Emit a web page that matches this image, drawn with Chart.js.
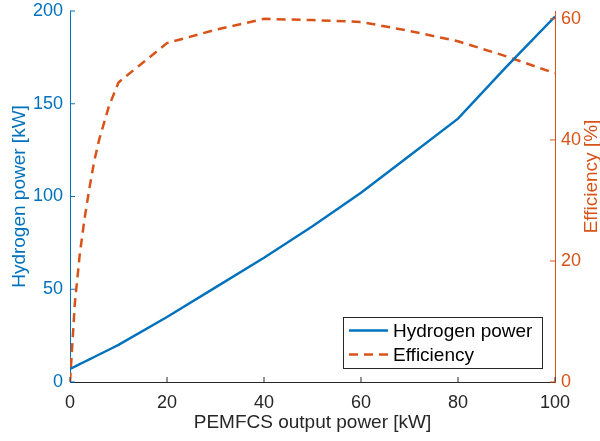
<!DOCTYPE html>
<html>
<head>
<meta charset="utf-8">
<script src="https://cdn.jsdelivr.net/npm/chart.js@4"></script>
<style>
    html, body { margin: 0; padding: 0; background: #fff; }
    #chart { display: block; }
</style>
</head>
<body>
<canvas id="chart" width="600" height="441"></canvas>
<script>
// datos
const outputPower = [0, 1, 2, 3, 4, 5, 6, 8, 10, 20, 30, 40, 50, 60, 70, 80, 90, 100];
const hydrogenPower = [7, 8.3, 9.6, 10.9, 12.2, 13.5, 14.8, 17.4, 20, 35, 51, 67, 84, 102, 122, 142, 170, 197];
const efficiency = [0, 13, 21, 27, 32, 36.5, 40, 45.5, 49.5, 56, 58.2, 60, 59.8, 59.5, 58, 56.3, 53.8, 51];

const xTicks = [0, 20, 40, 60, 80, 100];
const leftTicks = [0, 50, 100, 150, 200];
const rightTicks = [0, 20, 40, 60];

const BLUE = "#0072BD";
const ORANGE = "#D95319";
const DARK = "#262626";
const FONT = "'Liberation Sans', Arial, Helvetica, sans-serif";

function toPoints(xs, ys) {
    return xs.map((x, i) => ({ x: x, y: ys[i] }));
}

function keepTicks(list) {
    return scale => {
        scale.ticks = list.map(v => ({ value: v }));
    };
}

// anchos fijos para que el area quede como en MATLAB
function fixVertical(width) {
    return s => {
        s.width = width;
        s.paddingTop = 0;
        s.paddingBottom = 0;
    };
}

/* ===========================
   TICKS HACIA DENTRO
=========================== */
const inwardTicks = {
    id: "inwardTicks",
    afterDraw(chart) {
        const ctx = chart.ctx;
        const len = 5;
        ctx.save();
        ctx.lineWidth = 1;
        ["x", "y", "y1"].forEach(id => {
            const s = chart.scales[id];
            ctx.strokeStyle = s.options.border.color;
            s.ticks.forEach(t => {
                const p = s.getPixelForValue(t.value);
                ctx.beginPath();
                if (id === "x") {
                    ctx.moveTo(p, s.top);
                    ctx.lineTo(p, s.top - len);
                } else if (id === "y") {
                    ctx.moveTo(s.right, p);
                    ctx.lineTo(s.right + len, p);
                } else {
                    ctx.moveTo(s.left, p);
                    ctx.lineTo(s.left - len, p);
                }
                ctx.stroke();
            });
        });
        ctx.restore();
    }
};

/* ===========================
   TITULO EJE DERECHO (abajo -> arriba)
=========================== */
const rightTitle = {
    id: "rightTitle",
    afterDraw(chart) {
        const ctx = chart.ctx;
        const area = chart.chartArea;
        ctx.save();
        ctx.translate(592, (area.top + area.bottom) / 2 - 20);
        ctx.rotate(-Math.PI / 2);
        ctx.font = "19px " + FONT;
        ctx.fillStyle = ORANGE;
        ctx.textAlign = "center";
        ctx.textBaseline = "middle";
        ctx.fillText("Efficiency [%]", 0, 0);
        ctx.restore();
    }
};

/* ===========================
   LEYENDA (estilo MATLAB)
=========================== */
const boxLegend = {
    id: "boxLegend",
    afterDraw(chart) {
        const ctx = chart.ctx;
        const area = chart.chartArea;
        const w = 199, h = 51;
        const x0 = area.right - 13 - w;
        const y0 = area.bottom - 14 - h;
        ctx.save();
        ctx.fillStyle = "#fff";
        ctx.fillRect(x0, y0, w, h);
        ctx.strokeStyle = DARK;
        ctx.lineWidth = 1;
        ctx.strokeRect(x0 + 0.5, y0 + 0.5, w, h);
        ctx.font = "19px " + FONT;
        ctx.textBaseline = "middle";
        chart.data.datasets.forEach((ds, i) => {
            const y = y0 + 13.5 + i * 24;
            ctx.strokeStyle = ds.borderColor;
            ctx.lineWidth = ds.borderWidth;
            ctx.setLineDash(ds.borderDash || []);
            ctx.beginPath();
            ctx.moveTo(x0 + 6, y);
            ctx.lineTo(x0 + 45, y);
            ctx.stroke();
            ctx.setLineDash([]);
            ctx.fillStyle = "#000";
            ctx.fillText(ds.label, x0 + 50, y + 1);
        });
        ctx.restore();
    }
};

const ctx = document.getElementById("chart").getContext("2d");

new Chart(ctx, {
    type: "line",
    data: {
        datasets: [
            {
                label: "Hydrogen power",
                data: toPoints(outputPower, hydrogenPower),
                yAxisID: "y",
                borderColor: BLUE,
                borderWidth: 2.4,
                pointRadius: 0,
                tension: 0,
                fill: false
            },
            {
                label: "Efficiency",
                data: toPoints(outputPower, efficiency),
                yAxisID: "y1",
                borderColor: ORANGE,
                borderWidth: 2.5,
                borderDash: [9, 6],
                pointRadius: 0,
                tension: 0,
                fill: false
            }
        ]
    },
    options: {
        responsive: false,
        animation: false,
        layout: { padding: { top: 11, left: 0, right: 0, bottom: 0 } },
        plugins: {
            legend: { display: false },
            tooltip: { enabled: false }
        },
        scales: {
            x: {
                type: "linear",
                min: 0,
                max: 100,
                afterBuildTicks: keepTicks(xTicks),
                afterFit: s => {
                    s.height = 59;
                    s.paddingLeft = 0;
                    s.paddingRight = 0;
                },
                grid: { display: false, drawTicks: false },
                border: { display: true, color: DARK, width: 1 },
                ticks: {
                    color: DARK,
                    padding: 10,
                    maxRotation: 0,
                    font: { size: 18, family: FONT }
                },
                title: {
                    display: true,
                    text: "PEMFCS output power [kW]",
                    color: DARK,
                    padding: { top: 0, bottom: 9 },
                    font: { size: 19, family: FONT, lineHeight: 1 }
                }
            },
            y: {
                type: "linear",
                position: "left",
                min: 0,
                max: 200,
                afterBuildTicks: keepTicks(leftTicks),
                afterFit: fixVertical(70),
                grid: { display: false, drawTicks: false },
                border: { display: true, color: BLUE, width: 1 },
                ticks: {
                    color: BLUE,
                    padding: 7,
                    font: { size: 18, family: FONT }
                },
                title: {
                    display: true,
                    text: "Hydrogen power [kW]",
                    color: BLUE,
                    padding: { top: 10, bottom: 0 },
                    font: { size: 19, family: FONT, lineHeight: 1 }
                }
            },
            y1: {
                type: "linear",
                position: "right",
                min: 0,
                max: 61.3,
                afterBuildTicks: keepTicks(rightTicks),
                afterFit: fixVertical(45),
                grid: { display: false, drawTicks: false },
                border: { display: true, color: ORANGE, width: 1 },
                ticks: {
                    color: ORANGE,
                    padding: 6,
                    font: { size: 18, family: FONT }
                }
            }
        }
    },
    plugins: [inwardTicks, boxLegend, rightTitle]
});
</script>
</body>
</html>
